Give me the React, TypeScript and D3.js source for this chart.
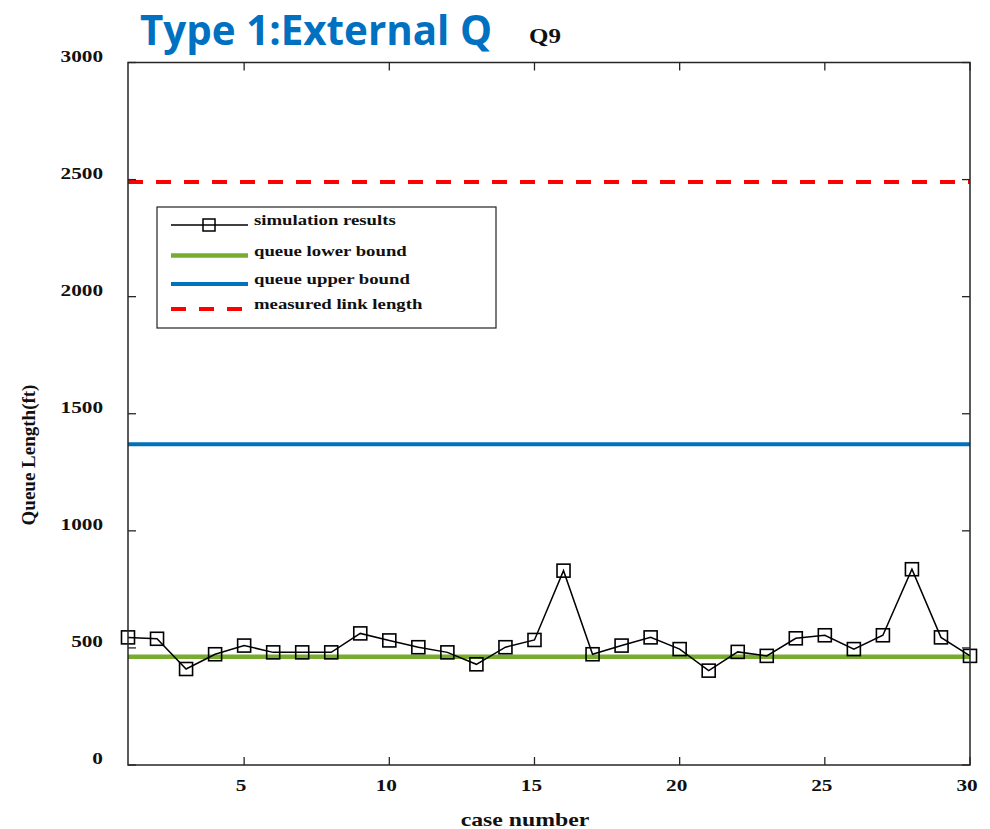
import React, { useEffect, useRef } from "react";
import * as d3 from "d3";

const caseNumbers = d3.range(1, 31);
const simulation = [
  545, 539, 410, 473, 510, 481, 481, 481, 562, 532, 503, 481, 430, 503, 534,
  830, 473, 510, 545, 495, 403, 483, 466, 541, 554, 495, 554, 836, 545, 466,
];
const lowerBound = 462;
const upperBound = 1370;
const linkLength = 2490;
const yTicks = [0, 500, 1000, 1500, 2000, 2500, 3000];
const xTicks = [5, 10, 15, 20, 25, 30];
const legendItems = [
  "simulation results",
  "queue lower bound",
  "queue upper bound",
  "measured link length",
];

const W = 990;
const H = 829;
const plot = { left: 128, right: 970, top: 62.5, bottom: 765 };
const SERIF = "'Liberation Serif', 'Times New Roman', serif";
const STRETCH = 1.25;

export default function App() {
  const ref = useRef<SVGSVGElement>(null);

  useEffect(() => {
    const svg = d3.select(ref.current);
    svg.selectAll("*").remove();

    const x = d3.scaleLinear().domain([1, 30]).range([plot.left, plot.right]);
    const y = d3.scaleLinear().domain([0, 3000]).range([plot.bottom, plot.top]);

    const stext = (tx: number, ty: number, str: string, size: number, anchor = "middle") =>
      svg
        .append("text")
        .attr("transform", `translate(${tx},${ty}) scale(${STRETCH},1)`)
        .attr("text-anchor", anchor)
        .attr("font-family", SERIF)
        .attr("font-weight", "bold")
        .attr("font-size", size)
        .attr("fill", "#111")
        .text(str);

    // title
    svg
      .append("text")
      .attr("x", 140)
      .attr("y", 45)
      .attr("font-family", "'Open Sans', 'Noto Sans', sans-serif")
      .attr("font-weight", "bold")
      .attr("font-size", 42)
      .attr("fill", "#0070C0")
      .attr("textLength", 352)
      .attr("lengthAdjust", "spacingAndGlyphs")
      .text("Type 1:External Q");
    stext(545, 43, "Q9", 20);

    // horizontal reference lines
    const hline = (v: number, color: string, w: number, dash?: string) =>
      svg
        .append("line")
        .attr("x1", plot.left)
        .attr("x2", plot.right)
        .attr("y1", y(v))
        .attr("y2", y(v))
        .attr("stroke", color)
        .attr("stroke-width", w)
        .attr("stroke-dasharray", dash ?? null);

    hline(linkLength, "#FF0000", 4, "15,13");
    hline(upperBound, "#0072BD", 4);
    hline(lowerBound, "#77AC30", 4.5);

    // simulation line + markers
    const line = d3
      .line<number>()
      .x((_, i) => x(caseNumbers[i]))
      .y((d) => y(d));
    svg
      .append("path")
      .attr("d", line(simulation))
      .attr("fill", "none")
      .attr("stroke", "#000")
      .attr("stroke-width", 1.5);
    svg
      .selectAll("rect.mk")
      .data(simulation)
      .join("rect")
      .attr("class", "mk")
      .attr("x", (_, i) => x(caseNumbers[i]) - 6.5)
      .attr("y", (d) => y(d) - 6.5)
      .attr("width", 13)
      .attr("height", 13)
      .attr("fill", "none")
      .attr("stroke", "#000")
      .attr("stroke-width", 1.6);

    // frame
    svg
      .append("rect")
      .attr("x", plot.left)
      .attr("y", plot.top)
      .attr("width", plot.right - plot.left)
      .attr("height", plot.bottom - plot.top)
      .attr("fill", "none")
      .attr("stroke", "#262626")
      .attr("stroke-width", 1.5);

    // ticks (inward, all four sides)
    const tl = 8;
    xTicks.forEach((t) => {
      svg.append("line").attr("x1", x(t)).attr("x2", x(t))
        .attr("y1", plot.bottom).attr("y2", plot.bottom - tl)
        .attr("stroke", "#262626").attr("stroke-width", 1.3);
      svg.append("line").attr("x1", x(t)).attr("x2", x(t))
        .attr("y1", plot.top).attr("y2", plot.top + tl)
        .attr("stroke", "#262626").attr("stroke-width", 1.3);
      stext(x(t) - 3, 791, String(t), 17);
    });
    yTicks.forEach((t) => {
      svg.append("line").attr("x1", plot.left).attr("x2", plot.left + tl)
        .attr("y1", y(t)).attr("y2", y(t))
        .attr("stroke", "#262626").attr("stroke-width", 1.3);
      svg.append("line").attr("x1", plot.right).attr("x2", plot.right - tl)
        .attr("y1", y(t)).attr("y2", y(t))
        .attr("stroke", "#262626").attr("stroke-width", 1.3);
      stext(103, y(t) - 1, String(t), 17, "end");
    });

    // axis labels
    stext(525, 826, "case number", 19);
    svg
      .append("text")
      .attr("transform", `translate(35,455) rotate(-90)`)
      .attr("text-anchor", "middle")
      .attr("font-family", SERIF)
      .attr("font-weight", "bold")
      .attr("font-size", 19)
      .attr("fill", "#111")
      .text("Queue Length(ft)");

    // legend
    const lg = svg.append("g");
    lg.append("rect")
      .attr("x", 157)
      .attr("y", 207)
      .attr("width", 339)
      .attr("height", 121)
      .attr("fill", "#fff")
      .attr("stroke", "#222")
      .attr("stroke-width", 1.2);
    const rowY = [220, 250.5, 279, 304];
    const styles = [
      { c: "#000", w: 1.5, d: null as string | null },
      { c: "#77AC30", w: 4.5, d: null },
      { c: "#0072BD", w: 4, d: null },
      { c: "#FF0000", w: 4, d: "15,13" },
    ];
    legendItems.forEach((label, i) => {
      const s = styles[i];
      lg.append("line")
        .attr("x1", 171)
        .attr("x2", 248)
        .attr("y1", rowY[i] + 5)
        .attr("y2", rowY[i] + 5)
        .attr("stroke", s.c)
        .attr("stroke-width", s.w)
        .attr("stroke-dasharray", s.d);
      if (i === 0) {
        lg.append("rect")
          .attr("x", 203)
          .attr("y", rowY[i] - 1)
          .attr("width", 12)
          .attr("height", 12)
          .attr("fill", "none")
          .attr("stroke", "#000")
          .attr("stroke-width", 1.5);
      }
      svg
        .append("text")
        .attr("transform", `translate(254,${rowY[i] + 5}) scale(${STRETCH},1)`)
        .attr("font-family", SERIF)
        .attr("font-weight", "bold")
        .attr("font-size", 15)
        .attr("fill", "#111")
        .text(label);
    });
  }, []);

  return (
    <svg
      ref={ref}
      width={W}
      height={H}
      style={{ position: "absolute", left: 0, top: 0, background: "#fff" }}
    />
  );
}
